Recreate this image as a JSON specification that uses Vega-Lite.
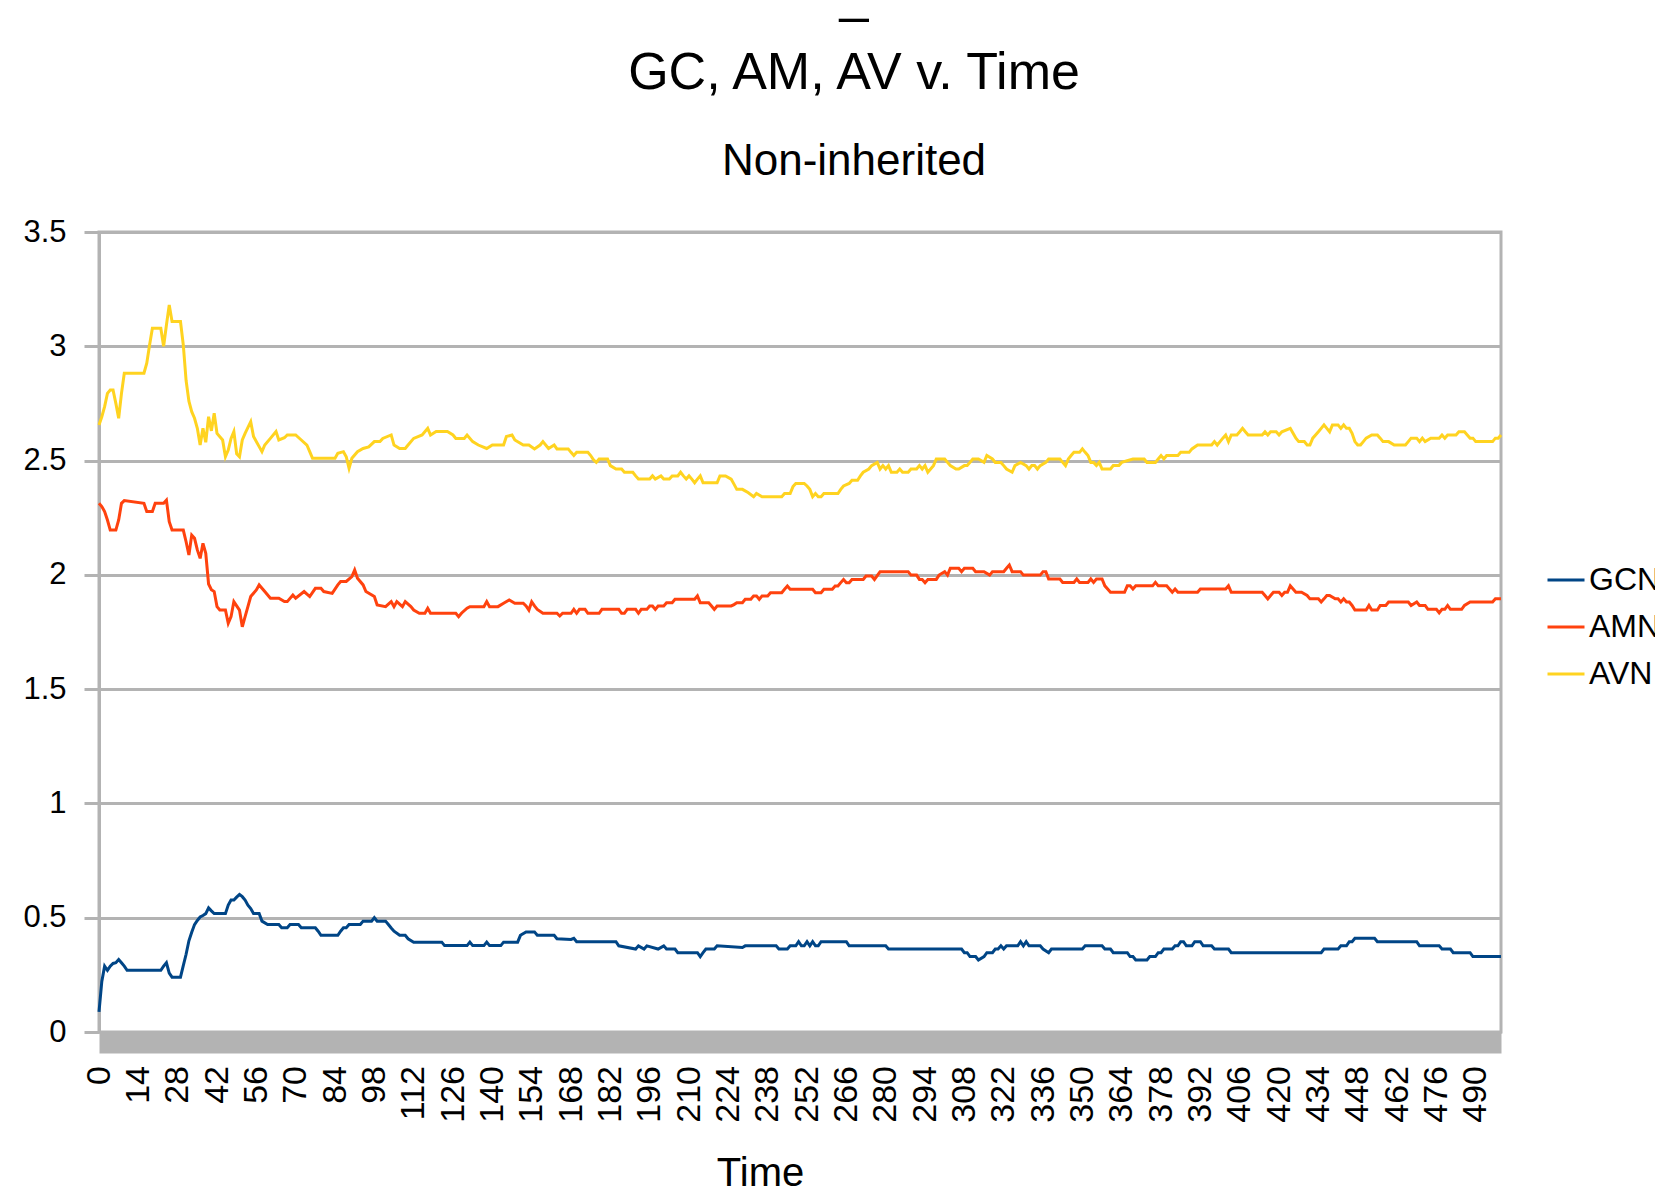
{
"$schema": "https://vega.github.io/schema/vega-lite/v6.json",
"width": 1402, "height": 800,
"autosize": {"type": "none"},
"padding": {"left": 99, "top": 232, "right": 154, "bottom": 158},
"background": "white",
"config": {"view": {"stroke": "#b3b3b3", "strokeWidth": 3}, "font": "Liberation Sans"},
"title": {
 "text": ["_", "GC, AM, AV v. Time"],
 "subtitle": "Non-inherited",
 "anchor": "middle", "frame": "group", "dx": 54,
 "font": "Liberation Sans", "fontSize": 52, "fontWeight": "normal", "color": "#000000",
 "lineHeight": 77,
 "subtitleFont": "Liberation Sans", "subtitleFontSize": 44, "subtitleColor": "#000000",
 "subtitlePadding": 40, "offset": 31
},
"datasets": {
"gc": [
{"t":0,"v":0.088},{"t":1,"v":0.221},{"t":2,"v":0.288},{"t":3,"v":0.27},{"t":4,"v":0.288},{"t":5,"v":0.3},{"t":6,"v":0.303},{"t":7,"v":0.317},{"t":8,"v":0.303},{"t":9,"v":0.288},{"t":10,"v":0.27},{"t":22,"v":0.27},{"t":23,"v":0.288},{"t":24,"v":0.303},{"t":25,"v":0.258},{"t":26,"v":0.24},{"t":29,"v":0.24},{"t":30,"v":0.29},{"t":31,"v":0.34},{"t":32,"v":0.399},{"t":33,"v":0.436},{"t":34,"v":0.47},{"t":35,"v":0.488},{"t":36,"v":0.503},{"t":37,"v":0.51},{"t":38,"v":0.518},{"t":39,"v":0.543},{"t":40,"v":0.53},{"t":41,"v":0.518},{"t":45,"v":0.518},{"t":46,"v":0.555},{"t":47,"v":0.577},{"t":48,"v":0.577},{"t":49,"v":0.59},{"t":50,"v":0.602},{"t":51,"v":0.592},{"t":52,"v":0.577},{"t":53,"v":0.555},{"t":54,"v":0.54},{"t":55,"v":0.518},{"t":57,"v":0.518},{"t":58,"v":0.485},{"t":60,"v":0.47},{"t":64,"v":0.47},{"t":65,"v":0.456},{"t":67,"v":0.456},{"t":68,"v":0.47},{"t":71,"v":0.47},{"t":72,"v":0.456},{"t":77,"v":0.456},{"t":78,"v":0.441},{"t":79,"v":0.423},{"t":85,"v":0.423},{"t":86,"v":0.441},{"t":87,"v":0.456},{"t":88,"v":0.456},{"t":89,"v":0.47},{"t":93,"v":0.47},{"t":94,"v":0.485},{"t":97,"v":0.485},{"t":98,"v":0.5},{"t":99,"v":0.485},{"t":102,"v":0.485},{"t":103,"v":0.47},{"t":104,"v":0.455},{"t":105,"v":0.441},{"t":107,"v":0.423},{"t":109,"v":0.423},{"t":110,"v":0.408},{"t":112,"v":0.393},{"t":122,"v":0.393},{"t":123,"v":0.378},{"t":131,"v":0.378},{"t":132,"v":0.393},{"t":133,"v":0.378},{"t":137,"v":0.378},{"t":138,"v":0.393},{"t":139,"v":0.378},{"t":143,"v":0.378},{"t":144,"v":0.393},{"t":149,"v":0.393},{"t":150,"v":0.423},{"t":152,"v":0.438},{"t":155,"v":0.438},{"t":156,"v":0.423},{"t":162,"v":0.423},{"t":163,"v":0.408},{"t":168,"v":0.405},{"t":169,"v":0.41},{"t":170,"v":0.395},{"t":184,"v":0.395},{"t":185,"v":0.377},{"t":191,"v":0.363},{"t":192,"v":0.377},{"t":194,"v":0.363},{"t":195,"v":0.377},{"t":199,"v":0.363},{"t":201,"v":0.377},{"t":202,"v":0.363},{"t":205,"v":0.363},{"t":206,"v":0.347},{"t":213,"v":0.347},{"t":214,"v":0.33},{"t":215,"v":0.347},{"t":216,"v":0.363},{"t":219,"v":0.363},{"t":220,"v":0.377},{"t":229,"v":0.37},{"t":230,"v":0.377},{"t":241,"v":0.377},{"t":242,"v":0.363},{"t":245,"v":0.363},{"t":246,"v":0.377},{"t":248,"v":0.377},{"t":249,"v":0.395},{"t":250,"v":0.377},{"t":251,"v":0.377},{"t":252,"v":0.395},{"t":253,"v":0.377},{"t":254,"v":0.395},{"t":255,"v":0.377},{"t":256,"v":0.377},{"t":257,"v":0.395},{"t":266,"v":0.395},{"t":267,"v":0.377},{"t":280,"v":0.377},{"t":281,"v":0.363},{"t":307,"v":0.363},{"t":308,"v":0.347},{"t":309,"v":0.347},{"t":310,"v":0.33},{"t":312,"v":0.33},{"t":313,"v":0.315},{"t":315,"v":0.33},{"t":316,"v":0.347},{"t":318,"v":0.347},{"t":319,"v":0.363},{"t":320,"v":0.363},{"t":321,"v":0.377},{"t":322,"v":0.363},{"t":323,"v":0.377},{"t":327,"v":0.377},{"t":328,"v":0.395},{"t":329,"v":0.377},{"t":330,"v":0.395},{"t":331,"v":0.377},{"t":335,"v":0.377},{"t":336,"v":0.363},{"t":338,"v":0.347},{"t":339,"v":0.363},{"t":350,"v":0.363},{"t":351,"v":0.377},{"t":357,"v":0.377},{"t":358,"v":0.363},{"t":360,"v":0.363},{"t":361,"v":0.347},{"t":366,"v":0.347},{"t":367,"v":0.33},{"t":368,"v":0.33},{"t":369,"v":0.315},{"t":373,"v":0.315},{"t":374,"v":0.33},{"t":376,"v":0.33},{"t":377,"v":0.347},{"t":378,"v":0.347},{"t":379,"v":0.363},{"t":382,"v":0.363},{"t":383,"v":0.377},{"t":384,"v":0.377},{"t":385,"v":0.395},{"t":386,"v":0.395},{"t":387,"v":0.377},{"t":389,"v":0.377},{"t":390,"v":0.395},{"t":392,"v":0.395},{"t":393,"v":0.377},{"t":396,"v":0.377},{"t":397,"v":0.363},{"t":402,"v":0.363},{"t":403,"v":0.347},{"t":435,"v":0.347},{"t":436,"v":0.363},{"t":441,"v":0.363},{"t":442,"v":0.377},{"t":444,"v":0.377},{"t":445,"v":0.395},{"t":446,"v":0.395},{"t":447,"v":0.41},{"t":454,"v":0.41},{"t":455,"v":0.395},{"t":469,"v":0.395},{"t":470,"v":0.377},{"t":477,"v":0.377},{"t":478,"v":0.363},{"t":481,"v":0.363},{"t":482,"v":0.347},{"t":488,"v":0.347},{"t":489,"v":0.33},{"t":499,"v":0.33}
],
"am": [
{"t":0,"v":2.313},{"t":1,"v":2.299},{"t":2,"v":2.277},{"t":3,"v":2.24},{"t":4,"v":2.196},{"t":6,"v":2.196},{"t":7,"v":2.24},{"t":8,"v":2.313},{"t":9,"v":2.325},{"t":16,"v":2.313},{"t":17,"v":2.277},{"t":19,"v":2.277},{"t":20,"v":2.313},{"t":23,"v":2.313},{"t":24,"v":2.327},{"t":25,"v":2.233},{"t":26,"v":2.196},{"t":30,"v":2.196},{"t":31,"v":2.145},{"t":32,"v":2.087},{"t":33,"v":2.174},{"t":34,"v":2.16},{"t":35,"v":2.109},{"t":36,"v":2.072},{"t":37,"v":2.138},{"t":38,"v":2.094},{"t":39,"v":1.96},{"t":40,"v":1.935},{"t":41,"v":1.927},{"t":42,"v":1.861},{"t":43,"v":1.846},{"t":45,"v":1.846},{"t":46,"v":1.788},{"t":47,"v":1.817},{"t":48,"v":1.883},{"t":50,"v":1.846},{"t":51,"v":1.773},{"t":52,"v":1.817},{"t":53,"v":1.861},{"t":54,"v":1.905},{"t":56,"v":1.934},{"t":57,"v":1.956},{"t":59,"v":1.927},{"t":61,"v":1.898},{"t":64,"v":1.898},{"t":66,"v":1.883},{"t":67,"v":1.883},{"t":69,"v":1.912},{"t":70,"v":1.898},{"t":73,"v":1.927},{"t":75,"v":1.905},{"t":77,"v":1.941},{"t":79,"v":1.941},{"t":80,"v":1.927},{"t":83,"v":1.919},{"t":85,"v":1.956},{"t":86,"v":1.971},{"t":88,"v":1.971},{"t":90,"v":1.992},{"t":91,"v":2.021},{"t":92,"v":1.985},{"t":94,"v":1.956},{"t":95,"v":1.927},{"t":98,"v":1.905},{"t":99,"v":1.868},{"t":102,"v":1.861},{"t":104,"v":1.883},{"t":105,"v":1.861},{"t":106,"v":1.883},{"t":108,"v":1.861},{"t":109,"v":1.883},{"t":111,"v":1.861},{"t":112,"v":1.846},{"t":114,"v":1.832},{"t":116,"v":1.832},{"t":117,"v":1.854},{"t":118,"v":1.832},{"t":127,"v":1.832},{"t":128,"v":1.817},{"t":129,"v":1.832},{"t":131,"v":1.854},{"t":132,"v":1.861},{"t":137,"v":1.861},{"t":138,"v":1.883},{"t":139,"v":1.861},{"t":142,"v":1.861},{"t":144,"v":1.876},{"t":146,"v":1.89},{"t":148,"v":1.876},{"t":151,"v":1.876},{"t":152,"v":1.864},{"t":153,"v":1.846},{"t":154,"v":1.882},{"t":155,"v":1.864},{"t":156,"v":1.849},{"t":158,"v":1.832},{"t":163,"v":1.832},{"t":164,"v":1.82},{"t":165,"v":1.832},{"t":168,"v":1.832},{"t":169,"v":1.849},{"t":170,"v":1.832},{"t":171,"v":1.849},{"t":173,"v":1.849},{"t":174,"v":1.832},{"t":178,"v":1.832},{"t":179,"v":1.849},{"t":185,"v":1.849},{"t":186,"v":1.832},{"t":187,"v":1.832},{"t":188,"v":1.849},{"t":191,"v":1.849},{"t":192,"v":1.832},{"t":193,"v":1.849},{"t":195,"v":1.849},{"t":196,"v":1.864},{"t":197,"v":1.864},{"t":198,"v":1.849},{"t":199,"v":1.864},{"t":201,"v":1.864},{"t":202,"v":1.878},{"t":204,"v":1.878},{"t":205,"v":1.893},{"t":212,"v":1.893},{"t":213,"v":1.908},{"t":214,"v":1.878},{"t":217,"v":1.878},{"t":218,"v":1.864},{"t":219,"v":1.849},{"t":220,"v":1.864},{"t":225,"v":1.864},{"t":226,"v":1.87},{"t":227,"v":1.878},{"t":229,"v":1.878},{"t":230,"v":1.893},{"t":232,"v":1.893},{"t":233,"v":1.908},{"t":234,"v":1.908},{"t":235,"v":1.893},{"t":236,"v":1.908},{"t":238,"v":1.908},{"t":239,"v":1.922},{"t":243,"v":1.922},{"t":244,"v":1.937},{"t":245,"v":1.951},{"t":246,"v":1.937},{"t":254,"v":1.937},{"t":255,"v":1.922},{"t":257,"v":1.922},{"t":258,"v":1.937},{"t":261,"v":1.937},{"t":262,"v":1.951},{"t":263,"v":1.951},{"t":264,"v":1.966},{"t":265,"v":1.98},{"t":266,"v":1.966},{"t":267,"v":1.966},{"t":268,"v":1.98},{"t":272,"v":1.98},{"t":273,"v":1.995},{"t":275,"v":1.995},{"t":276,"v":1.98},{"t":278,"v":2.014},{"t":288,"v":2.014},{"t":289,"v":1.999},{"t":291,"v":1.999},{"t":292,"v":1.98},{"t":293,"v":1.98},{"t":294,"v":1.966},{"t":295,"v":1.98},{"t":298,"v":1.98},{"t":299,"v":1.999},{"t":301,"v":2.014},{"t":302,"v":1.999},{"t":303,"v":2.029},{"t":306,"v":2.029},{"t":307,"v":2.014},{"t":308,"v":2.029},{"t":311,"v":2.029},{"t":312,"v":2.014},{"t":315,"v":2.014},{"t":317,"v":1.999},{"t":318,"v":2.014},{"t":322,"v":2.014},{"t":323,"v":2.029},{"t":324,"v":2.043},{"t":325,"v":2.014},{"t":328,"v":2.014},{"t":329,"v":1.999},{"t":335,"v":1.999},{"t":336,"v":2.014},{"t":337,"v":2.014},{"t":338,"v":1.982},{"t":342,"v":1.982},{"t":343,"v":1.967},{"t":347,"v":1.967},{"t":348,"v":1.982},{"t":349,"v":1.967},{"t":352,"v":1.967},{"t":353,"v":1.982},{"t":354,"v":1.967},{"t":355,"v":1.982},{"t":357,"v":1.982},{"t":358,"v":1.952},{"t":359,"v":1.938},{"t":360,"v":1.924},{"t":365,"v":1.924},{"t":366,"v":1.952},{"t":367,"v":1.952},{"t":368,"v":1.938},{"t":369,"v":1.952},{"t":375,"v":1.952},{"t":376,"v":1.967},{"t":377,"v":1.952},{"t":380,"v":1.952},{"t":381,"v":1.938},{"t":382,"v":1.924},{"t":383,"v":1.938},{"t":384,"v":1.924},{"t":391,"v":1.924},{"t":392,"v":1.938},{"t":401,"v":1.938},{"t":402,"v":1.952},{"t":403,"v":1.924},{"t":414,"v":1.924},{"t":415,"v":1.91},{"t":416,"v":1.895},{"t":417,"v":1.91},{"t":418,"v":1.924},{"t":420,"v":1.924},{"t":421,"v":1.91},{"t":422,"v":1.924},{"t":423,"v":1.924},{"t":424,"v":1.952},{"t":425,"v":1.938},{"t":426,"v":1.924},{"t":428,"v":1.924},{"t":430,"v":1.91},{"t":431,"v":1.895},{"t":434,"v":1.895},{"t":435,"v":1.881},{"t":436,"v":1.895},{"t":437,"v":1.91},{"t":438,"v":1.91},{"t":440,"v":1.895},{"t":441,"v":1.895},{"t":442,"v":1.881},{"t":443,"v":1.895},{"t":444,"v":1.881},{"t":445,"v":1.881},{"t":446,"v":1.866},{"t":447,"v":1.846},{"t":451,"v":1.846},{"t":452,"v":1.866},{"t":453,"v":1.846},{"t":455,"v":1.846},{"t":456,"v":1.866},{"t":458,"v":1.866},{"t":459,"v":1.881},{"t":466,"v":1.881},{"t":467,"v":1.866},{"t":469,"v":1.881},{"t":470,"v":1.866},{"t":472,"v":1.866},{"t":473,"v":1.849},{"t":476,"v":1.849},{"t":477,"v":1.834},{"t":478,"v":1.849},{"t":479,"v":1.849},{"t":480,"v":1.866},{"t":481,"v":1.849},{"t":485,"v":1.849},{"t":486,"v":1.866},{"t":488,"v":1.881},{"t":496,"v":1.881},{"t":497,"v":1.895},{"t":499,"v":1.895}
],
"av": [
{"t":0,"v":2.656},{"t":1,"v":2.692},{"t":2,"v":2.736},{"t":3,"v":2.794},{"t":4,"v":2.809},{"t":5,"v":2.809},{"t":6,"v":2.75},{"t":7,"v":2.685},{"t":8,"v":2.794},{"t":9,"v":2.882},{"t":16,"v":2.882},{"t":17,"v":2.926},{"t":18,"v":3.006},{"t":19,"v":3.079},{"t":22,"v":3.079},{"t":23,"v":3.0},{"t":24,"v":3.093},{"t":25,"v":3.181},{"t":26,"v":3.108},{"t":29,"v":3.108},{"t":30,"v":3.006},{"t":31,"v":2.85},{"t":32,"v":2.76},{"t":33,"v":2.714},{"t":34,"v":2.685},{"t":35,"v":2.641},{"t":36,"v":2.568},{"t":37,"v":2.641},{"t":38,"v":2.58},{"t":39,"v":2.692},{"t":40,"v":2.63},{"t":41,"v":2.707},{"t":42,"v":2.619},{"t":44,"v":2.59},{"t":45,"v":2.517},{"t":46,"v":2.546},{"t":47,"v":2.597},{"t":48,"v":2.627},{"t":49,"v":2.53},{"t":50,"v":2.517},{"t":51,"v":2.59},{"t":52,"v":2.619},{"t":54,"v":2.67},{"t":55,"v":2.605},{"t":57,"v":2.561},{"t":58,"v":2.539},{"t":59,"v":2.568},{"t":61,"v":2.597},{"t":63,"v":2.627},{"t":64,"v":2.59},{"t":66,"v":2.6},{"t":67,"v":2.612},{"t":70,"v":2.612},{"t":72,"v":2.59},{"t":74,"v":2.568},{"t":75,"v":2.539},{"t":76,"v":2.51},{"t":84,"v":2.51},{"t":85,"v":2.532},{"t":87,"v":2.539},{"t":88,"v":2.517},{"t":89,"v":2.466},{"t":90,"v":2.51},{"t":92,"v":2.539},{"t":94,"v":2.553},{"t":96,"v":2.56},{"t":98,"v":2.583},{"t":100,"v":2.583},{"t":101,"v":2.597},{"t":104,"v":2.612},{"t":105,"v":2.568},{"t":107,"v":2.553},{"t":109,"v":2.553},{"t":110,"v":2.568},{"t":112,"v":2.597},{"t":115,"v":2.612},{"t":117,"v":2.641},{"t":118,"v":2.612},{"t":120,"v":2.627},{"t":124,"v":2.627},{"t":126,"v":2.612},{"t":127,"v":2.597},{"t":130,"v":2.597},{"t":131,"v":2.612},{"t":133,"v":2.583},{"t":135,"v":2.568},{"t":138,"v":2.553},{"t":140,"v":2.568},{"t":144,"v":2.568},{"t":145,"v":2.605},{"t":147,"v":2.612},{"t":148,"v":2.59},{"t":151,"v":2.568},{"t":153,"v":2.568},{"t":155,"v":2.551},{"t":157,"v":2.568},{"t":158,"v":2.583},{"t":160,"v":2.553},{"t":162,"v":2.568},{"t":163,"v":2.551},{"t":167,"v":2.551},{"t":168,"v":2.536},{"t":169,"v":2.522},{"t":170,"v":2.536},{"t":174,"v":2.536},{"t":175,"v":2.522},{"t":176,"v":2.503},{"t":177,"v":2.492},{"t":178,"v":2.507},{"t":181,"v":2.507},{"t":182,"v":2.478},{"t":184,"v":2.463},{"t":186,"v":2.463},{"t":187,"v":2.449},{"t":190,"v":2.449},{"t":191,"v":2.433},{"t":192,"v":2.419},{"t":196,"v":2.419},{"t":197,"v":2.433},{"t":198,"v":2.419},{"t":200,"v":2.433},{"t":201,"v":2.419},{"t":203,"v":2.419},{"t":204,"v":2.433},{"t":206,"v":2.433},{"t":207,"v":2.449},{"t":208,"v":2.433},{"t":209,"v":2.419},{"t":210,"v":2.433},{"t":211,"v":2.419},{"t":212,"v":2.403},{"t":213,"v":2.419},{"t":214,"v":2.433},{"t":215,"v":2.403},{"t":220,"v":2.403},{"t":221,"v":2.433},{"t":223,"v":2.433},{"t":225,"v":2.419},{"t":226,"v":2.397},{"t":227,"v":2.374},{"t":229,"v":2.374},{"t":231,"v":2.36},{"t":233,"v":2.342},{"t":234,"v":2.356},{"t":236,"v":2.342},{"t":243,"v":2.342},{"t":244,"v":2.356},{"t":246,"v":2.356},{"t":247,"v":2.386},{"t":248,"v":2.4},{"t":251,"v":2.4},{"t":252,"v":2.389},{"t":253,"v":2.374},{"t":254,"v":2.342},{"t":255,"v":2.356},{"t":256,"v":2.342},{"t":257,"v":2.342},{"t":258,"v":2.356},{"t":263,"v":2.356},{"t":264,"v":2.374},{"t":265,"v":2.389},{"t":267,"v":2.4},{"t":268,"v":2.414},{"t":270,"v":2.414},{"t":271,"v":2.433},{"t":272,"v":2.449},{"t":274,"v":2.463},{"t":275,"v":2.478},{"t":277,"v":2.492},{"t":278,"v":2.463},{"t":279,"v":2.478},{"t":280,"v":2.463},{"t":281,"v":2.478},{"t":282,"v":2.449},{"t":284,"v":2.449},{"t":285,"v":2.463},{"t":286,"v":2.449},{"t":288,"v":2.449},{"t":289,"v":2.463},{"t":291,"v":2.463},{"t":292,"v":2.478},{"t":293,"v":2.463},{"t":294,"v":2.478},{"t":295,"v":2.449},{"t":297,"v":2.478},{"t":298,"v":2.507},{"t":301,"v":2.507},{"t":302,"v":2.492},{"t":303,"v":2.478},{"t":305,"v":2.463},{"t":306,"v":2.463},{"t":308,"v":2.478},{"t":309,"v":2.478},{"t":310,"v":2.492},{"t":311,"v":2.507},{"t":313,"v":2.507},{"t":315,"v":2.492},{"t":316,"v":2.522},{"t":318,"v":2.507},{"t":319,"v":2.492},{"t":321,"v":2.492},{"t":322,"v":2.478},{"t":323,"v":2.463},{"t":325,"v":2.449},{"t":326,"v":2.478},{"t":328,"v":2.492},{"t":330,"v":2.478},{"t":331,"v":2.463},{"t":332,"v":2.478},{"t":333,"v":2.478},{"t":334,"v":2.463},{"t":335,"v":2.478},{"t":337,"v":2.492},{"t":338,"v":2.507},{"t":342,"v":2.507},{"t":343,"v":2.492},{"t":344,"v":2.478},{"t":345,"v":2.507},{"t":346,"v":2.522},{"t":347,"v":2.536},{"t":349,"v":2.536},{"t":350,"v":2.551},{"t":351,"v":2.536},{"t":352,"v":2.522},{"t":353,"v":2.492},{"t":354,"v":2.492},{"t":355,"v":2.478},{"t":356,"v":2.492},{"t":357,"v":2.463},{"t":360,"v":2.463},{"t":361,"v":2.478},{"t":363,"v":2.478},{"t":364,"v":2.492},{"t":368,"v":2.507},{"t":372,"v":2.507},{"t":373,"v":2.492},{"t":376,"v":2.492},{"t":377,"v":2.507},{"t":378,"v":2.522},{"t":379,"v":2.507},{"t":380,"v":2.522},{"t":384,"v":2.522},{"t":385,"v":2.536},{"t":388,"v":2.536},{"t":389,"v":2.551},{"t":391,"v":2.568},{"t":396,"v":2.568},{"t":397,"v":2.583},{"t":398,"v":2.568},{"t":399,"v":2.583},{"t":400,"v":2.598},{"t":401,"v":2.612},{"t":402,"v":2.583},{"t":403,"v":2.612},{"t":405,"v":2.612},{"t":406,"v":2.626},{"t":407,"v":2.641},{"t":408,"v":2.626},{"t":409,"v":2.612},{"t":414,"v":2.612},{"t":415,"v":2.626},{"t":416,"v":2.612},{"t":417,"v":2.626},{"t":419,"v":2.626},{"t":420,"v":2.612},{"t":421,"v":2.626},{"t":424,"v":2.641},{"t":425,"v":2.62},{"t":426,"v":2.598},{"t":427,"v":2.583},{"t":429,"v":2.583},{"t":430,"v":2.568},{"t":431,"v":2.568},{"t":432,"v":2.598},{"t":433,"v":2.612},{"t":434,"v":2.626},{"t":435,"v":2.641},{"t":436,"v":2.656},{"t":437,"v":2.641},{"t":438,"v":2.626},{"t":439,"v":2.656},{"t":441,"v":2.656},{"t":442,"v":2.641},{"t":443,"v":2.656},{"t":444,"v":2.641},{"t":445,"v":2.641},{"t":446,"v":2.619},{"t":447,"v":2.583},{"t":448,"v":2.568},{"t":449,"v":2.568},{"t":450,"v":2.583},{"t":451,"v":2.598},{"t":453,"v":2.612},{"t":455,"v":2.612},{"t":456,"v":2.598},{"t":457,"v":2.583},{"t":459,"v":2.583},{"t":461,"v":2.568},{"t":465,"v":2.568},{"t":466,"v":2.583},{"t":467,"v":2.598},{"t":469,"v":2.598},{"t":470,"v":2.583},{"t":471,"v":2.598},{"t":472,"v":2.583},{"t":474,"v":2.598},{"t":477,"v":2.598},{"t":478,"v":2.612},{"t":479,"v":2.598},{"t":480,"v":2.612},{"t":483,"v":2.612},{"t":484,"v":2.626},{"t":486,"v":2.626},{"t":487,"v":2.612},{"t":488,"v":2.598},{"t":489,"v":2.598},{"t":490,"v":2.583},{"t":496,"v":2.583},{"t":497,"v":2.598},{"t":498,"v":2.598},{"t":499,"v":2.612}
]
},
"encoding": {
 "x": {"field": "t", "type": "quantitative",
  "scale": {"domain": [0, 499], "nice": false, "zero": false},
  "axis": {"title": "Time", "values": [0,14,28,42,56,70,84,98,112,126,140,154,168,182,196,210,224,238,252,266,280,294,308,322,336,350,364,378,392,406,420,434,448,462,476,490],
   "labelAngle": -90, "labelAlign": "right", "labelBaseline": "middle", "labelFont": "Liberation Sans", "labelFontSize": 34, "labelColor": "#000000",
   "labelPadding": 23, "labelFlush": false, "labelOverlap": false, "ticks": false, "grid": false,
   "domainColor": "#b3b3b3", "domainWidth": 21, "offset": 10.5,
   "titleFont": "Liberation Sans", "titleFontSize": 40, "titleFontWeight": "normal", "titleColor": "#000000",
   "titleX": 661, "titleY": 143, "titleBaseline": "alphabetic", "titleAlign": "center"}},
 "y": {"field": "v", "type": "quantitative",
  "scale": {"domain": [0, 3.5], "nice": false, "zero": true},
  "axis": {"title": null, "values": [0,0.5,1,1.5,2,2.5,3,3.5], "format": "~g",
   "labelFont": "Liberation Sans", "labelFontSize": 31, "labelColor": "#000000", "labelPadding": 18, "labelFlush": false,
   "tickSize": 15, "tickWidth": 3, "tickColor": "#b3b3b3",
   "domainColor": "#b3b3b3", "domainWidth": 3,
   "grid": true, "gridColor": "#b3b3b3", "gridWidth": 3, "gridOpacity": 1}}
},
"layer": [
 {"data": {"name": "gc"}, "mark": {"type": "line", "strokeWidth": 3},
  "encoding": {"color": {"datum": "GCN", "type": "nominal",
   "scale": {"domain": ["GCN", "AMN", "AVN"], "range": ["#004586", "#ff420e", "#ffd320"]},
   "legend": {"orient": "none", "legendX": 1447, "legendY": 328, "title": null, "direction": "vertical",
    "symbolType": "stroke", "symbolSize": 1369, "symbolStrokeWidth": 3,
    "labelFont": "Liberation Sans", "labelFontSize": 32, "labelColor": "#000000", "labelOffset": 3, "labelLimit": 0,
    "rowPadding": 11, "padding": 0}}}},
 {"data": {"name": "am"}, "mark": {"type": "line", "strokeWidth": 3},
  "encoding": {"color": {"datum": "AMN", "type": "nominal"}}},
 {"data": {"name": "av"}, "mark": {"type": "line", "strokeWidth": 3},
  "encoding": {"color": {"datum": "AVN", "type": "nominal"}}}
]
}
